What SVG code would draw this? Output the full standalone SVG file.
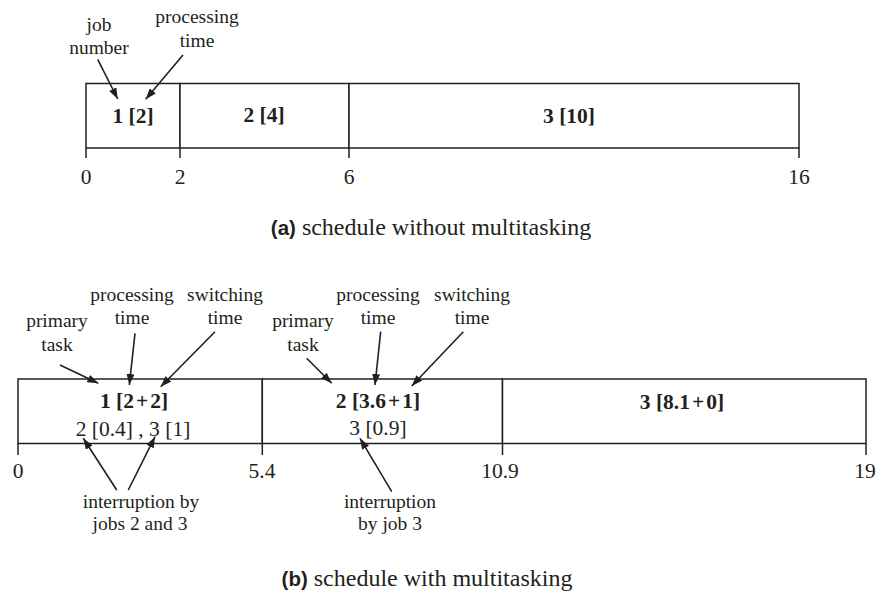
<svg xmlns="http://www.w3.org/2000/svg" width="878" height="603" viewBox="0 0 878 603">
<style>
.bx{fill:#fff;stroke:#231f20;stroke-width:1.5}
.tk{stroke:#231f20;stroke-width:1.5}
.ar{stroke:#231f20;stroke-width:1.6;fill:none;marker-end:url(#ah)}
text{font-family:"Liberation Serif","Times New Roman",serif;fill:#231f20;text-anchor:middle}
.lb{font-size:19.5px}
.bd{font-size:21.5px;font-weight:bold}
.rg{font-size:21.5px}
.nm{font-size:21.5px}
.cp{font-size:24px}
.cs{font-family:"Liberation Sans",Arial,sans-serif;font-weight:bold;font-size:20.5px}
</style>
<defs>
<marker id="ah" markerUnits="userSpaceOnUse" markerWidth="11" markerHeight="8" refX="11" refY="4" orient="auto">
<path d="M0,0 L11,4 L0,8 z" fill="#231f20"/>
</marker>
</defs>

<!-- (a) schedule without multitasking -->
<g id="a-job1"><rect class="bx" x="86" y="83.5" width="94" height="64.5"/><text class="bd" x="133" y="123">1 [2]</text></g>
<g id="a-job2"><rect class="bx" x="180" y="83.5" width="169" height="64.5"/><text class="bd" x="264" y="122">2 [4]</text></g>
<g id="a-job3"><rect class="bx" x="349" y="83.5" width="450" height="64.5"/><text class="bd" x="569" y="123">3 [10]</text></g>
<g id="a-axis">
<line class="tk" x1="86" y1="148" x2="86" y2="158"/>
<line class="tk" x1="180" y1="148" x2="180" y2="158"/>
<line class="tk" x1="349" y1="148" x2="349" y2="158"/>
<line class="tk" x1="799" y1="148" x2="799" y2="158"/>
<text class="nm" x="86" y="184">0</text>
<text class="nm" x="180" y="184">2</text>
<text class="nm" x="349" y="184">6</text>
<text class="nm" x="799" y="184">16</text>
</g>
<g id="a-lbl-job"><text class="lb" x="99" y="31">job</text><text class="lb" x="99" y="54">number</text></g>
<g id="a-lbl-proc"><text class="lb" x="197" y="23">processing</text><text class="lb" x="197" y="46.5">time</text></g>
<g id="a-caption"><text x="431" y="235"><tspan class="cs">(a)</tspan><tspan class="cp"> schedule without multitasking</tspan></text></g>

<!-- (b) schedule with multitasking -->
<g id="b-job1"><rect class="bx" x="18" y="379" width="244.3" height="64.5"/><text class="bd" x="134" y="408">1 [2<tspan dx="2">+</tspan><tspan dx="2">2]</tspan></text><text class="rg" x="133" y="436">2 [0.4] , 3 [1]</text></g>
<g id="b-job2"><rect class="bx" x="262.3" y="379" width="240.2" height="64.5"/><text class="bd" x="378" y="408">2 [3.6<tspan dx="2">+</tspan><tspan dx="2">1]</tspan></text><text class="rg" x="378" y="435">3 [0.9]</text></g>
<g id="b-job3"><rect class="bx" x="502.5" y="379" width="363.5" height="64.5"/><text class="bd" x="682" y="409">3 [8.1<tspan dx="2">+</tspan><tspan dx="2">0]</tspan></text></g>
<g id="b-axis">
<line class="tk" x1="18" y1="443.5" x2="18" y2="455"/>
<line class="tk" x1="262.3" y1="443.5" x2="262.3" y2="455"/>
<line class="tk" x1="502.5" y1="443.5" x2="502.5" y2="455"/>
<line class="tk" x1="866" y1="443.5" x2="866" y2="455"/>
<text class="nm" x="18" y="478">0</text>
<text class="nm" x="262" y="478">5.4</text>
<text class="nm" x="500" y="478">10.9</text>
<text class="nm" x="865" y="478">19</text>
</g>
<g id="b-lbl-prim1"><text class="lb" x="57" y="327">primary</text><text class="lb" x="57" y="351">task</text></g>
<g id="b-lbl-proc1"><text class="lb" x="132" y="300.5">processing</text><text class="lb" x="132" y="323.5">time</text></g>
<g id="b-lbl-sw1"><text class="lb" x="225" y="300.5">switching</text><text class="lb" x="225" y="323.5">time</text></g>
<g id="b-lbl-prim2"><text class="lb" x="303" y="327">primary</text><text class="lb" x="303" y="351">task</text></g>
<g id="b-lbl-proc2"><text class="lb" x="378" y="300.5">processing</text><text class="lb" x="378" y="323.5">time</text></g>
<g id="b-lbl-sw2"><text class="lb" x="472" y="300.5">switching</text><text class="lb" x="472" y="323.5">time</text></g>
<g id="b-lbl-int1"><text class="lb" x="141" y="508">interruption by</text><text class="lb" x="140" y="530">jobs 2 and 3</text></g>
<g id="b-lbl-int2"><text class="lb" x="390" y="508">interruption</text><text class="lb" x="390" y="530">by job 3</text></g>
<g id="b-caption"><text x="427" y="585.5"><tspan class="cs">(b)</tspan><tspan class="cp"> schedule with multitasking</tspan></text></g>

<g id="connectors">
<line class="ar" x1="97.7" y1="59.3" x2="117.7" y2="99"/>
<line class="ar" x1="183" y1="55" x2="145.7" y2="99.3"/>
<line class="ar" x1="60" y1="365" x2="98.3" y2="383.3"/>
<line class="ar" x1="135" y1="333.3" x2="129.3" y2="385"/>
<line class="ar" x1="215" y1="331.7" x2="160.7" y2="386.7"/>
<line class="ar" x1="116.7" y1="490" x2="83.3" y2="438.3"/>
<line class="ar" x1="128.3" y1="490" x2="155" y2="436.7"/>
<line class="ar" x1="306.7" y1="358.3" x2="331.7" y2="383.3"/>
<line class="ar" x1="380.7" y1="331.7" x2="375" y2="385"/>
<line class="ar" x1="463.3" y1="331.7" x2="411.7" y2="386"/>
<line class="ar" x1="391.7" y1="491.7" x2="360" y2="438.3"/>
</g>
</svg>
